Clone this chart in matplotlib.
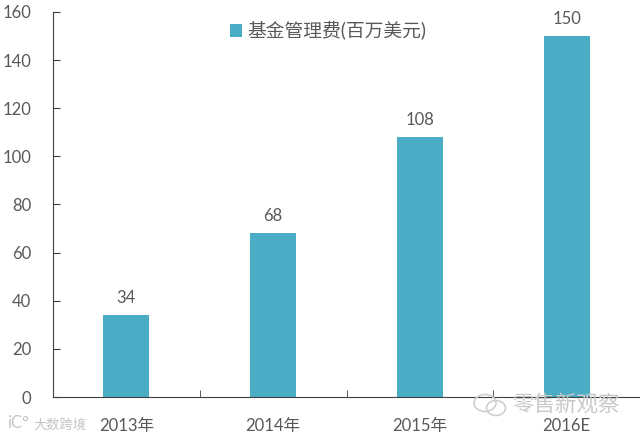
import matplotlib.pyplot as plt
from matplotlib.patches import Ellipse
import numpy as np

plt.rcParams['font.family'] = ['Lato', 'Noto Sans CJK SC', 'DejaVu Sans']

categories = ['2013年', '2014年', '2015年', '2016E']
fees = [34, 68, 108, 150]
yticks = [0, 20, 40, 60, 80, 100, 120, 140, 160]
legend_label = '基金管理费(百万美元)'
text_color = '#595959'

fig = plt.figure(figsize=(6.4, 4.37), dpi=100)
ax = fig.add_axes([53/640, 1-397/437, (640-53)/640, (397-12)/437])

x = np.arange(len(categories))
ax.bar(x, fees, width=0.312, color='#4bacc6', label=legend_label)
for xi, v in zip(x, fees):
    ax.text(xi, v+3.8, str(v), ha='center', va='bottom', fontsize=12, color=text_color)

ax.set_xlim(-0.5, 3.5)
ax.set_ylim(0, 160)
ax.set_yticks(yticks)
ax.set_xticks(x)
ax.set_xticklabels(categories)
ax.set_xticks(np.arange(0.5, 3.5, 1), minor=True)
ax.tick_params(axis='x', which='major', length=0, labelsize=12, labelcolor=text_color, pad=15)
ax.tick_params(axis='x', which='minor', length=5, direction='in', color='#404040')
ax.tick_params(axis='y', length=5, direction='in', labelsize=12, labelcolor=text_color, color='#404040', pad=15.5)
ax.spines['top'].set_visible(False)
ax.spines['right'].set_visible(False)
ax.spines['left'].set_color('#404040')
ax.spines['bottom'].set_color('#404040')

ax.legend(loc='upper left', bbox_to_anchor=(0.272, 1.02), frameon=False, fontsize=13.5,
          handlelength=0.65, handleheight=0.65, handletextpad=0.3, labelcolor=text_color)

# watermarks
fig.text(33/640, 1-424/437, '大数跨境', fontsize=9.5, color='#c4c4c4', va='center', ha='left', zorder=5)
fig.text(7/640, 1-423/437, 'iC°', fontsize=12, color='#c4c4c4', va='center', ha='left', zorder=5)
fig.text(512/640, 1-404/437, '零售新观察', fontsize=15.5, color='#c8c8c8', va='center', ha='left', zorder=5)
for cx, cy, w, h in [(485, 403, 22, 17), (496, 408, 19, 15)]:
    fig.add_artist(Ellipse((cx/640, 1-cy/437), w/640, h/437, transform=fig.transFigure,
                           fill=False, ec='#cfcfcf', lw=1.2, zorder=5))

fig.savefig('out.png', dpi=100)
